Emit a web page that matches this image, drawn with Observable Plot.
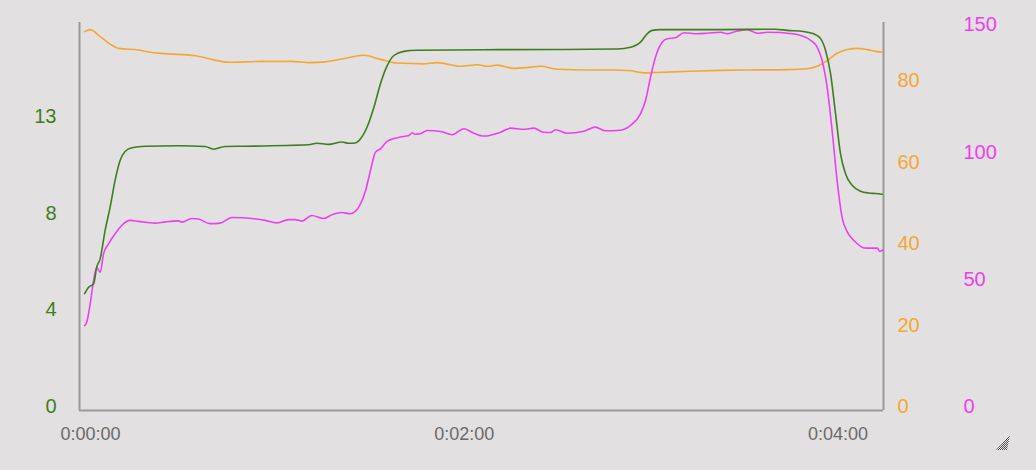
<!DOCTYPE html>
<html><head><meta charset="utf-8">
<script src="https://cdn.jsdelivr.net/npm/d3@7"></script>
<script src="https://cdn.jsdelivr.net/npm/@observablehq/plot@0.6"></script>
<style>
html,body{margin:0;padding:0;background:#e2e0e0;width:1036px;height:470px;overflow:hidden;}
#chart{position:relative;width:1036px;height:470px;}
#grip{position:absolute;left:994px;top:433px;}
</style></head><body><div id="chart"></div>
<script>
// time in seconds
const greenT = [-1.9,-0.6,1.0,2.0,3.1,4.7,6.3,7.9,9.5,11.1,13.3,17.6,28.3,36.8,39.5,43.2,49.7,70.0,72.7,76.4,80.7,82.8,85.0,86.7,88.8,91.0,93.1,95.3,97.4,100.6,104.9,126.2,147.7,169.1,173.4,176.6,178.7,180.3,183.0,202.3,219.9,223.7,228.9,232.2,234.4,236.0,237.6,239.2,240.8,242.4,244.6,247.2,249.9,252.0,254.2];
const greenV = [4.91,5.19,5.34,6.06,6.42,7.65,8.66,9.82,10.68,11.07,11.23,11.30,11.32,11.29,11.17,11.29,11.30,11.36,11.43,11.38,11.48,11.43,11.44,11.62,12.13,12.99,14.01,14.80,15.23,15.41,15.46,15.48,15.49,15.51,15.59,15.81,16.17,16.32,16.35,16.35,16.37,16.32,16.27,16.17,15.96,15.45,14.44,12.71,10.97,10.11,9.60,9.35,9.27,9.25,9.22];

const orangeT = [-1.9,-0.1,2.6,5.8,9.0,15.4,19.7,24.0,33.6,38.9,44.3,55.0,64.6,70.5,75.4,80.7,86.0,87.7,93.1,98.5,107.0,111.3,118.8,124.2,127.4,130.6,135.9,141.3,144.5,149.8,160.5,168.0,173.4,177.6,181.9,192.6,202.3,210.8,223.7,230.1,233.3,236.5,239.7,243.0,246.2,249.4,252.6,254.2];
const orangeV = [92.0,92.5,91.1,89.2,87.9,87.5,86.9,86.6,86.1,85.2,84.5,84.7,84.7,84.4,84.6,85.3,86.1,86.2,85.2,84.3,84.1,84.4,83.5,83.9,83.5,83.8,83.0,83.3,83.5,82.8,82.6,82.6,82.4,81.9,82.0,82.3,82.5,82.6,82.7,82.9,83.5,84.9,86.7,87.6,87.9,87.6,87.1,87.0];

const magentaT = [-1.9,-1.2,-0.1,1.0,2.0,3.1,4.2,5.8,7.9,10.0,12.7,15.4,20.8,24.0,28.3,29.3,32.5,34.7,38.4,41.6,45.4,48.6,51.8,56.1,59.8,63.6,65.7,67.8,71.0,74.8,77.5,80.7,83.4,86.1,88.3,89.9,91.5,93.1,95.3,99.5,102.2,103.3,104.3,105.9,108.1,112.4,116.1,119.9,123.1,126.3,131.6,134.8,139.1,142.3,145.5,147.7,149.3,153.1,158.4,162.1,165.3,170.1,173.4,176.6,178.2,179.8,181.4,183.6,185.2,187.8,190.5,194.8,198.0,202.3,204.4,207.1,210.8,214.1,217.3,221.5,223.7,228.0,231.2,233.3,234.9,236.5,238.1,239.7,241.3,243.0,245.1,248.8,251.0,252.6,253.4,254.5];
const magentaV = [32.0,33.3,40.5,49.7,54.9,52.9,60.2,64.1,68.0,71.3,73.3,72.9,72.2,72.7,73.1,72.6,74.0,73.8,72.0,72.2,74.4,74.3,74.0,73.3,72.3,73.6,73.6,73.0,75.2,74.0,75.5,76.4,75.9,78.5,85.0,92.9,100.1,101.4,104.4,106.0,106.6,107.7,107.1,107.3,108.6,108.2,106.9,109.3,107.5,106.4,107.9,109.5,109.1,109.5,107.9,107.8,108.9,107.5,108.3,109.9,108.5,108.7,110.6,115.2,120.4,129.5,137.4,143.3,144.6,145.0,147.0,146.6,146.8,147.2,146.6,147.5,148.2,146.8,147.2,147.1,146.8,145.9,144.0,141.3,136.1,125.6,108.6,89.0,74.5,68.7,65.4,62.4,62.4,62.4,61.1,61.7];

// axis ticks
const greenTicks = [0, 4.2, 8.4, 12.6];
const greenTickLabels = ["0", "4", "8", "13"];
const orangeTicks = [0, 20, 40, 60, 80];
const magentaTicks = [0, 50, 100, 150];
const xTicks = [0, 120, 240];

// axis maxima (value at top of plot area)
const greenMax = 16.66, orangeMax = 94.24, magentaMax = 151.0;

const GREEN = "#3c7f1f", ORANGE = "#f5a733", MAGENTA = "#ec40f0", AXIS = "#9a9a9a";

const toRows = (T, V) => T.map((t, i) => ({t, v: V[i]}));
const green = toRows(greenT, greenV);
const orange = toRows(orangeT, orangeV);
const magenta = toRows(magentaT, magentaV);

const xDomain = [-3.53, 254.6];
const yDomain = [-0.0091, 1];
const fmtTime = s => {
  const h = Math.floor(s / 3600), m = Math.floor((s % 3600) / 60), sec = Math.round(s % 60);
  return `${h}:${String(m).padStart(2, "0")}:${String(sec).padStart(2, "0")}`;
};

const chart = Plot.plot({
  width: 1036, height: 470,
  marginLeft: 79, marginRight: 153, marginTop: 22, marginBottom: 60,
  style: {background: "#e2e0e0", fontFamily: "'Liberation Sans', Arial, sans-serif"},
  x: {domain: xDomain},
  y: {domain: yDomain},
  marks: [
    Plot.ruleX([xDomain[0], xDomain[1]], {stroke: AXIS, strokeWidth: 2}),
    Plot.ruleY([yDomain[0]], {stroke: AXIS, strokeWidth: 2}),
    Plot.axisX({ticks: xTicks, tickFormat: fmtTime, tickSize: 0, tickPadding: 17, fontSize: 18, fill: "#6a6a6a", label: null}),
    Plot.axisY({anchor: "left", ticks: greenTicks.map(v => v / greenMax), tickFormat: (d, i) => greenTickLabels[i], tickSize: 0, tickPadding: 23, fontSize: 20, fill: GREEN, label: null}),
    Plot.axisY({anchor: "right", ticks: orangeTicks.map(v => v / orangeMax), tickFormat: (d, i) => String(orangeTicks[i]), tickSize: 0, tickPadding: 14, fontSize: 20, fill: ORANGE, label: null}),
    Plot.axisY({anchor: "right", ticks: magentaTicks.map(v => v / magentaMax), tickFormat: (d, i) => String(magentaTicks[i]), tickSize: 0, tickPadding: 80, fontSize: 20, fill: MAGENTA, label: null}),
    Plot.line(orange, {x: "t", y: d => d.v / orangeMax, stroke: ORANGE, strokeWidth: 1.6, curve: "monotone-x"}),
    Plot.line(magenta, {x: "t", y: d => d.v / magentaMax, stroke: MAGENTA, strokeWidth: 1.6, curve: "monotone-x"}),
    Plot.line(green, {x: "t", y: d => d.v / greenMax, stroke: GREEN, strokeWidth: 1.6, curve: "monotone-x"})
  ]
});
document.getElementById("chart").appendChild(chart);

// window resize grip decoration
const grip = document.createElementNS("http://www.w3.org/2000/svg", "svg");
grip.setAttribute("id", "grip");
grip.setAttribute("width", "20"); grip.setAttribute("height", "20");
grip.innerHTML = '<defs><pattern id="hp" width="2" height="2" patternUnits="userSpaceOnUse"><rect width="1" height="1" fill="#555"/><rect x="1" y="1" width="1" height="1" fill="#555"/></pattern></defs><polygon points="2,17 16,2 13,17" fill="url(#hp)"/>';
document.getElementById("chart").appendChild(grip);
</script></body></html>
